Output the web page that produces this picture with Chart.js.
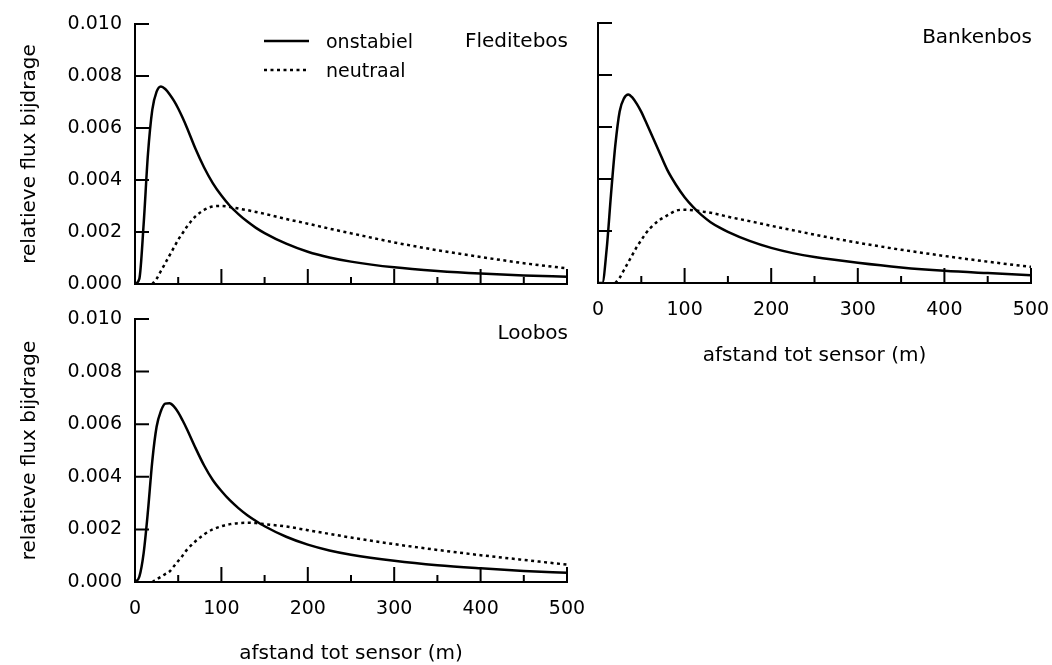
<!DOCTYPE html>
<html>
<head>
<meta charset="utf-8">
<title>relatieve flux bijdrage</title>
<script src="https://cdn.jsdelivr.net/npm/chart.js@4"></script>
<style>
  html, body { margin: 0; padding: 0; background: #fff; }
  #wrap { position: relative; width: 1052px; height: 665px; overflow: hidden; }
  #wrap canvas { position: absolute; }
</style>
</head>
<body>
<div id="wrap">
  <canvas id="c-fled" width="580" height="300" style="left:0;top:0;width:580px;height:300px"></canvas>
  <canvas id="c-bank" width="532" height="380" style="left:520px;top:0;width:532px;height:380px"></canvas>
  <canvas id="c-loo" width="600" height="365" style="left:0;top:300px;width:600px;height:365px"></canvas>
</div>
<script>
// ---- data (afstand tot sensor in m, relatieve flux bijdrage) ----
const distances = [0, 5, 10, 15, 20, 25, 30, 35, 40, 45, 50, 55, 60, 70, 80, 90, 100, 110, 120, 130, 140, 150, 175, 200, 225, 250, 300, 350, 400, 450, 500];

const fledOnstabiel = [0, 0.0002, 0.0023, 0.005, 0.0067, 0.0074, 0.0076, 0.0075, 0.0073, 0.00705, 0.00675, 0.0064, 0.00602, 0.0052, 0.00448, 0.00388, 0.0034, 0.003, 0.00268, 0.0024, 0.00216, 0.00196, 0.00155, 0.00124, 0.00102, 0.00086, 0.00064, 0.0005, 0.0004, 0.00033, 0.00028];
const fledNeutraal  = [null, null, null, null, 0, 0.0002, 0.0005, 0.0008, 0.0011, 0.0014, 0.0017, 0.00195, 0.0022, 0.0026, 0.00285, 0.00298, 0.003, 0.00296, 0.0029, 0.00284, 0.00277, 0.0027, 0.0025, 0.00232, 0.00213, 0.00195, 0.0016, 0.0013, 0.00104, 0.0008, 0.0006];

const bankOnstabiel = [0, 0, 0.0013, 0.0034, 0.0053, 0.0066, 0.0071, 0.00725, 0.00712, 0.00688, 0.00658, 0.00622, 0.00585, 0.0051, 0.00435, 0.00378, 0.0033, 0.00292, 0.0026, 0.00234, 0.00214, 0.00197, 0.00162, 0.00135, 0.00115, 0.001, 0.00078, 0.0006, 0.00047, 0.00038, 0.0003];
const bankNeutraal  = [null, null, null, null, 0, 0.0002, 0.0005, 0.0008, 0.0011, 0.0014, 0.00165, 0.0019, 0.0021, 0.0024, 0.0026, 0.00278, 0.00282, 0.0028, 0.00275, 0.0027, 0.00263, 0.00255, 0.00238, 0.0022, 0.00203, 0.00186, 0.00155, 0.00128, 0.00104, 0.00082, 0.00062];

const looOnstabiel  = [0, 0.0002, 0.0011, 0.0027, 0.0046, 0.0059, 0.0065, 0.00678, 0.0068, 0.00668, 0.00645, 0.00615, 0.00582, 0.0051, 0.00443, 0.00388, 0.00346, 0.0031, 0.0028, 0.00254, 0.00232, 0.00212, 0.00172, 0.00142, 0.0012, 0.00104, 0.00081, 0.00064, 0.00052, 0.00042, 0.00035];
const looNeutraal   = [null, null, null, null, 0, 0.0001, 0.0002, 0.0003, 0.0004, 0.0006, 0.0008, 0.001, 0.00122, 0.00155, 0.00181, 0.002, 0.00212, 0.0022, 0.00224, 0.00225, 0.00224, 0.0022, 0.00211, 0.00197, 0.00183, 0.00169, 0.00144, 0.00122, 0.00102, 0.00084, 0.00066];

const yTickValues = [0, 0.002, 0.004, 0.006, 0.008, 0.01];
const xMajorTicks = [100, 200, 300, 400, 500];
const xMinorTicks = [50, 150, 250, 350, 450];

const seriesLabels = ['onstabiel', 'neutraal'];
const yTitle = 'relatieve flux bijdrage';
const xTitle = 'afstand tot sensor (m)';

Chart.defaults.font.family = "'DejaVu Sans', sans-serif";
Chart.defaults.color = '#000';

// ---- inward ticks, panel name, legend ----
const framePlugin = {
  id: 'frame',
  afterDraw(chart, args, opts) {
    const { ctx, chartArea, scales: { x, y } } = chart;
    ctx.save();
    ctx.strokeStyle = '#000';
    ctx.lineWidth = 2;
    ctx.beginPath();
    yTickValues.forEach(v => {
      const py = y.getPixelForValue(v);
      ctx.moveTo(chartArea.left, py);
      ctx.lineTo(chartArea.left + 14, py);
    });
    xMajorTicks.forEach(v => {
      const px = x.getPixelForValue(v);
      ctx.moveTo(px, chartArea.bottom);
      ctx.lineTo(px, chartArea.bottom - 15);
    });
    xMinorTicks.forEach(v => {
      const px = x.getPixelForValue(v);
      ctx.moveTo(px, chartArea.bottom);
      ctx.lineTo(px, chartArea.bottom - 7);
    });
    ctx.stroke();

    ctx.fillStyle = '#000';
    ctx.font = "20px 'DejaVu Sans'";
    ctx.textAlign = 'right';
    ctx.textBaseline = 'alphabetic';
    ctx.fillText(opts.name, chartArea.right + 1, chartArea.top + opts.nameDy);

    if (opts.legend) {
      ctx.font = "19px 'DejaVu Sans'";
      ctx.textAlign = 'left';
      chart.data.datasets.forEach((ds, i) => {
        const ly = chartArea.top + 17 + i * 29;
        ctx.save();
        ctx.lineWidth = ds.borderWidth;
        ctx.setLineDash(ds.borderDash || []);
        ctx.beginPath();
        ctx.moveTo(chartArea.left + 129, ly);
        ctx.lineTo(chartArea.left + 174, ly);
        ctx.stroke();
        ctx.restore();
        ctx.fillText(ds.label, chartArea.left + 191, ly + 7);
      });
    }
    ctx.restore();
  }
};

function makePanel(id, onstabiel, neutraal, p) {
  const pts = arr => distances.map((d, i) => ({ x: d, y: arr[i] }));
  return new Chart(document.getElementById(id), {
    type: 'line',
    data: {
      datasets: [
        { label: seriesLabels[0], data: pts(onstabiel), borderColor: '#000', borderWidth: 2.5, pointRadius: 0, cubicInterpolationMode: 'monotone' },
        { label: seriesLabels[1], data: pts(neutraal), borderColor: '#000', borderWidth: 2.5, borderDash: [3, 3.5], pointRadius: 0, cubicInterpolationMode: 'monotone' }
      ]
    },
    options: {
      responsive: false,
      animation: false,
      events: [],
      layout: { padding: { left: 0, top: p.top, right: p.right, bottom: 0 } },
      plugins: {
        legend: { display: false },
        tooltip: { enabled: false },
        frame: { name: p.name, nameDy: p.nameDy, legend: p.legend }
      },
      scales: {
        x: {
          type: 'linear', min: 0, max: 500,
          grid: { display: false, drawTicks: false },
          border: { display: true, color: '#000', width: 2 },
          ticks: { display: p.xLabels, stepSize: 100, padding: 16, font: { size: 19 } },
          title: { display: p.xLabels, text: xTitle, font: { size: 20 }, padding: { bottom: p.xTitlePad } },
          afterFit(s) { s.height = p.xHeight; s.paddingLeft = 0; s.paddingRight = 0; }
        },
        y: {
          min: 0, max: 0.01,
          grid: { display: false, drawTicks: false },
          border: { display: true, color: '#000', width: 2 },
          ticks: { display: p.yLabels, stepSize: 0.002, padding: 13, font: { size: 19 }, callback: v => v.toFixed(3) },
          title: { display: p.yLabels, text: yTitle, font: { size: 20 }, padding: { top: 18 } },
          afterFit(s) { s.width = p.yWidth; s.paddingTop = 0; s.paddingBottom = 0; }
        }
      }
    },
    plugins: [framePlugin]
  });
}

makePanel('c-fled', fledOnstabiel, fledNeutraal, {
  name: 'Fleditebos', nameDy: 23, legend: true, top: 24, right: 13,
  xLabels: false, xHeight: 16, xTitlePad: 0, yLabels: true, yWidth: 135
});
makePanel('c-bank', bankOnstabiel, bankNeutraal, {
  name: 'Bankenbos', nameDy: 20, legend: false, top: 23, right: 21,
  xLabels: true, xHeight: 97, xTitlePad: 12, yLabels: false, yWidth: 78
});
makePanel('c-loo', looOnstabiel, looNeutraal, {
  name: 'Loobos', nameDy: 20, legend: false, top: 19, right: 33,
  xLabels: true, xHeight: 83, xTitlePad: -1, yLabels: true, yWidth: 135
});
</script>
</body>
</html>
